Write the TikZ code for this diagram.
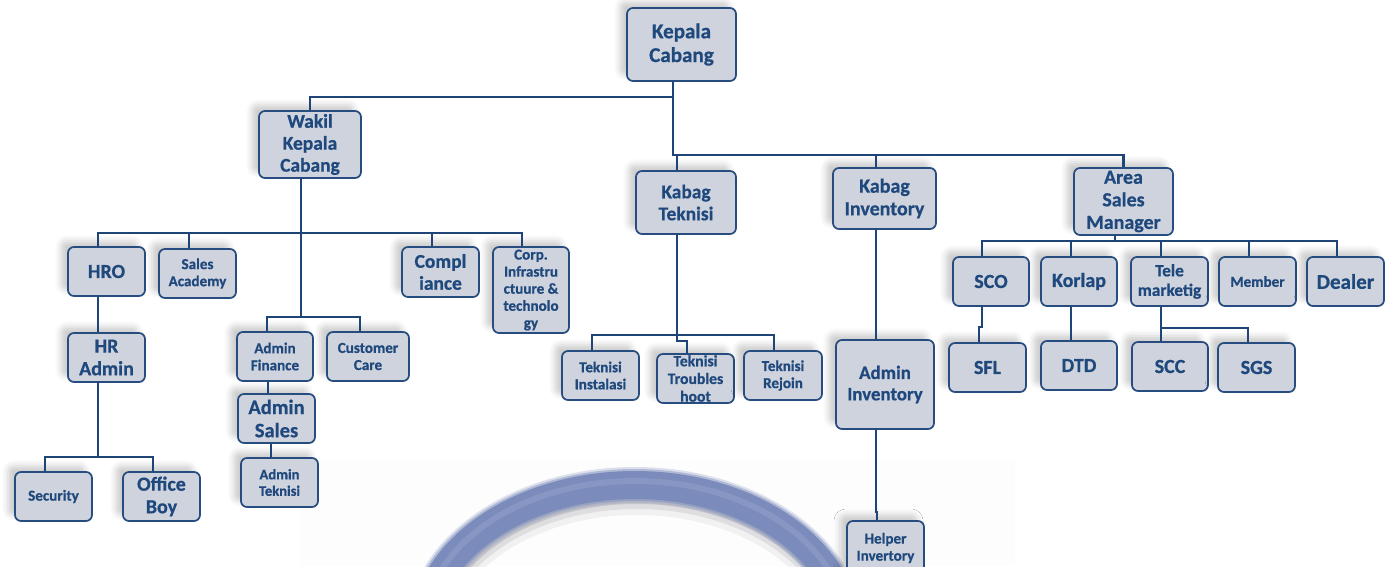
\documentclass[tikz,border=0pt]{standalone}
\usepackage{fontspec}
\setmainfont{Carlito}[BoldFont={Carlito Bold}, BoldFeatures={FakeBold=0.7}]
\usetikzlibrary{shadows.blur,calc}
\definecolor{boxfill}{RGB}{206,211,221}
\definecolor{boxline}{RGB}{38,76,128}
\definecolor{txtc}{RGB}{31,73,125}
\definecolor{linec}{RGB}{31,68,120}
\definecolor{ringc}{RGB}{122,139,188}
\definecolor{ringsh}{RGB}{140,140,150}
\tikzset{
  box/.style={draw=boxline, line width=1.7pt, fill=boxfill, rounded corners=6pt, inner sep=0pt,
    blur shadow={shadow xshift=-7pt, shadow yshift=6pt, shadow blur radius=6pt, shadow opacity=20}},
  lbl/.style={text=txtc, align=center, inner sep=0pt},
  conn/.style={draw=linec, line width=2.1pt},
  mainconn/.style={draw=linec, line width=2.7pt},
}
\newcommand\bx[7]{%
  \node[box, minimum width={(#4-#2)*1pt}, minimum height={(#5-#3)*1pt},
    label={[lbl,font=\bfseries\fontsize{\the\dimexpr #6pt*108/100\relax}{\the\dimexpr #6pt*122/100\relax}\selectfont]center:{#7}}]
    (#1) at ({(#2+#4)/2},{(#3+#5)/2}) {};}
\begin{document}
\begin{tikzpicture}[x=1pt,y=-1pt]
\useasboundingbox (0,0) rectangle (1390,566);
\begin{scope}
  \clip (0,0) rectangle (1390,566);
  \fill[gray!1.8] (300,460) rectangle (1015,566);
  % soft shadow of the ring
  \draw[ringsh, line width=40pt, opacity=0.10] (637,645) ellipse [x radius=210, y radius=150];
  \draw[ringsh, line width=32pt, opacity=0.18] (637,643) ellipse [x radius=210, y radius=150];
  \draw[ringsh, line width=26pt, opacity=0.30] (637,641) ellipse [x radius=210, y radius=150];
  % ring
  \draw[ringc, line width=36pt, opacity=0.25] (635,635) ellipse [x radius=212, y radius=150];
  \draw[ringc, line width=32pt, opacity=0.45] (635,635) ellipse [x radius=212, y radius=150];
  \draw[ringc, line width=28pt] (635,635) ellipse [x radius=212, y radius=150];
  \draw[ringc!80!white, line width=6pt, opacity=0.5] (635,631) ellipse [x radius=212, y radius=150];
\end{scope}

\bx{kc}{627}{8}{736}{81}{19.5}{Kepala\\Cabang}
\bx{wk}{259}{111}{361}{178}{18}{Wakil\\Kepala\\Cabang}
\bx{hro}{68}{247}{145}{296}{18.5}{HRO}
\bx{sa}{159}{249}{236}{298}{14}{Sales\\Academy}
\bx{hra}{68}{333}{145}{382}{18.5}{HR\\Admin}
\bx{sec}{15}{472}{92}{521}{14}{Security}
\bx{ob}{123}{472}{200}{521}{18.5}{Office\\Boy}
\bx{af}{237}{332}{313}{381}{14}{Admin\\Finance}
\bx{cc}{327}{332}{409}{381}{14}{Customer\\Care}
\bx{as}{238}{394}{315}{443}{19}{Admin\\Sales}
\bx{at}{241}{458}{318}{507}{13.5}{Admin\\Teknisi}
\bx{cmp}{402}{247}{479}{297}{18}{Compl\\iance}
\bx{cor}{493}{247}{569}{333}{14}{Corp.\\Infrastru\\ctuure \&\\technolo\\gy}
\bx{kt}{636}{171}{736}{234}{18}{Kabag\\Teknisi}
\bx{ti}{562}{351}{639}{400}{14}{Teknisi\\Instalasi}
\bx{tt}{657}{354}{734}{403}{14.5}{Teknisi\\Troubles\\hoot}
\bx{tr}{744}{351}{822}{400}{14}{Teknisi\\Rejoin}
\bx{ki}{833}{168}{936}{229}{18.5}{Kabag\\Inventory}
\bx{ai}{836}{340}{934}{429}{17.5}{Admin\\Inventory}
\bx{hi}{847}{521}{924}{575}{14}{Helper\\Invertory}
\bx{asm}{1074}{168}{1173}{235}{18.5}{Area\\Sales\\Manager}
\bx{sco}{953}{257}{1029}{306}{18.5}{SCO}
\bx{kor}{1041}{257}{1117}{306}{18.5}{Korlap}
\bx{tm}{1131}{257}{1208}{306}{16}{Tele\\marketig}
\bx{mem}{1219}{257}{1296}{306}{14}{Member}
\bx{dea}{1307}{257}{1384}{306}{19.5}{Dealer}
\bx{sfl}{949}{343}{1026}{392}{18.5}{SFL}
\bx{dtd}{1041}{341}{1117}{390}{18.5}{DTD}
\bx{scc}{1132}{342}{1208}{391}{18.5}{SCC}
\bx{sgs}{1218}{343}{1295}{392}{18.5}{SGS}

% top level
\coordinate (bus) at (673,155);
\coordinate (lbus) at (301,233);
\draw[mainconn] (kc.south -| 673,0) |- (wk.north |- 0,97) -- (wk.north);
\draw[mainconn] (kc.south -| 673,0) -- (bus) -| (asm.north);
\draw[conn] (bus) -- (bus -| 677,0) -- (kt.north -| 677,0);
\draw[conn] (ki.north -| 876,0) -- (bus -| 876,0);

% wakil
\draw[mainconn] (wk.south -| 301,0) -- (301,317);
\draw[mainconn] (hro.north -| 98,0) -- (lbus -| 98,0) -- (lbus -| 522,0) -- (cor.north -| 522,0);
\draw[conn] (sa.north -| 189,0) -- (lbus -| 189,0);
\draw[conn] (cmp.north -| 432,0) -- (lbus -| 432,0);
\draw[conn] (af.north -| 267,0) -- (267,317) -- (360,317) -- (cc.north -| 360,0);
\draw[conn] (af.south -| 268,0) -- (as.north -| 268,0);
\draw[conn] (as.south -| 271,0) -- (at.north -| 271,0);
\draw[conn] (hro.south -| 98,0) -- (hra.north -| 98,0);
\draw[conn] (hra.south -| 98,0) -- (98,457);
\draw[conn] (sec.north -| 45,0) |- (98,457) -| (ob.north -| 153,0);

% teknisi
\draw[mainconn] (kt.south -| 677,0) -- (677,335);
\draw[conn] (ti.north -| 592,0) -- (592,335) -- (774,335) -- (tr.north -| 774,0);
\draw[conn] (677,335) |- (687,341) -- (tt.north -| 687,0);

% inventory
\draw[conn] (ki.south -| 876,0) -- (ai.north -| 876,0);
\draw[conn] (ai.south -| 876,0) -- (876,512) -- (877,512) -- (hi.north -| 877,0);

% area sales
\draw[conn] (asm.south -| 1115,0) -- (1115,241);
\draw[conn] (sco.north -| 982,0) -- (982,241) -- (1337,241) -- (dea.north -| 1337,0);
\draw[conn] (kor.north -| 1071,0) -- (1071,241);
\draw[conn] (tm.north -| 1161,0) -- (1161,241);
\draw[conn] (mem.north -| 1249,0) -- (1249,241);
\draw[conn] (sco.south -| 982,0) -- (982,327) -- (979,327) -- (sfl.north -| 979,0);
\draw[conn] (kor.south -| 1071,0) -- (dtd.north -| 1071,0);
\draw[conn] (tm.south -| 1161,0) -- (1161,328) -- (1248,328) -- (sgs.north -| 1248,0);
\draw[conn] (1161,328) -- (scc.north -| 1161,0);
\end{tikzpicture}
\end{document}
